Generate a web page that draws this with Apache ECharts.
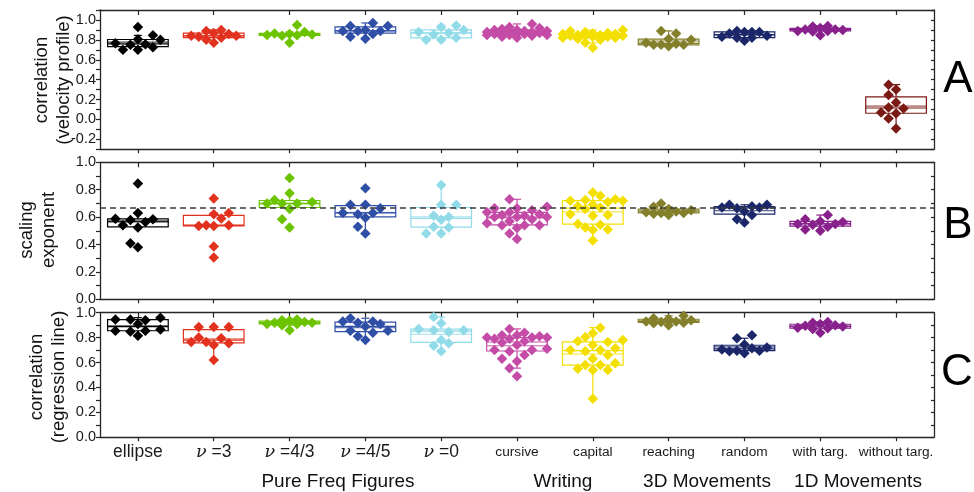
<!DOCTYPE html>
<html>
<head>
<meta charset="utf-8">
<script src="https://cdn.jsdelivr.net/npm/echarts@6/dist/echarts.min.js"></script>
<style>
  html, body { margin: 0; padding: 0; background: #ffffff; }
  #chart { width: 974px; height: 492px; }
</style>
</head>
<body>
<div id="chart"></div>
<script>
// Movement categories along the horizontal axis
const categories = ['ellipse', 'ν =3', 'ν =4/3', 'ν =4/5', 'ν =0', 'cursive', 'capital', 'reaching', 'random', 'with targ.', 'without targ.'];
const groupLabels = ['Pure Freq Figures', 'Writing', '3D Movements', '1D Movements'];
const panelLetters = ['A', 'B', 'C'];
const panelTitles = ['correlation\n(velocity profile)', 'scaling\nexponent', 'correlation\n(regression line)'];
const categoryColors = ['#000000', '#e2321f', '#6cc300', '#2f4ea6', '#91dbe9', '#c44ca7', '#f4e000', '#837f2a', '#1b2769', '#88218c', '#7a1a14'];

// Panel A: correlation of the velocity profile
const velEllipse = [0.75, 0.80, 0.70, 0.93, 0.845, 0.725, 0.70, 0.755, 0.765, 0.805];
const velNu3 = [0.83, 0.84, 0.90, 0.80, 0.77, 0.86, 0.87, 0.84, 0.82, 0.89];
const velNu43 = [0.845, 0.855, 0.86, 0.95, 0.88, 0.77, 0.84, 0.865, 0.85];
const velNu45 = [0.89, 0.89, 0.97, 0.81, 0.94, 0.86, 0.94, 0.83, 0.89, 0.90];
const velNu0 = [0.88, 0.855, 0.93, 0.80, 0.945, 0.80, 0.87, 0.90, 0.82];
const velCursive = [0.87, 0.88, 0.85, 0.89, 0.86, 0.90, 0.84, 0.92, 0.96, 0.88, 0.82, 0.87, 0.91, 0.85, 0.89, 0.93, 0.86, 0.88, 0.83, 0.90, 0.87, 0.85];
const velCapital = [0.865, 0.84, 0.83, 0.82, 0.85, 0.80, 0.72, 0.77, 0.86, 0.88, 0.84, 0.89, 0.87, 0.83, 0.81, 0.86, 0.84, 0.90, 0.85, 0.82];
const velReaching = [0.75, 0.89, 0.77, 0.865, 0.76, 0.81, 0.735, 0.80, 0.75, 0.75];
const velRandom = [0.865, 0.88, 0.83, 0.82, 0.88, 0.79, 0.84, 0.88, 0.82, 0.89];
const velWithTarg = [0.845, 0.94, 0.89, 0.905, 0.90, 0.935, 0.89, 0.92, 0.885, 0.905];
const velWithoutTarg = [0.17, 0.07, 0.245, 0.35, 0.12, 0.06, -0.09, 0.30, 0.11, 0.01];

// Panel B: scaling exponent
const expEllipse = [0.584, 0.588, 0.54, 0.63, 0.846, 0.41, 0.38, 0.578, 0.525, 0.564];
const expNu3 = [0.54, 0.63, 0.54, 0.735, 0.59, 0.385, 0.305, 0.62, 0.535, 0.535];
const expNu43 = [0.71, 0.70, 0.885, 0.775, 0.70, 0.66, 0.585, 0.525, 0.725, 0.70];
const expNu45 = [0.63, 0.665, 0.62, 0.81, 0.69, 0.53, 0.48, 0.595, 0.69, 0.63];
const expNu0 = [0.69, 0.58, 0.525, 0.48, 0.835, 0.61, 0.69, 0.60, 0.53, 0.48];
const expCursive = [0.635, 0.60, 0.54, 0.675, 0.60, 0.555, 0.73, 0.665, 0.615, 0.54, 0.48, 0.44, 0.60, 0.665, 0.585, 0.635, 0.54, 0.61, 0.57, 0.62, 0.52, 0.65];
const expCapital = [0.725, 0.69, 0.505, 0.755, 0.68, 0.615, 0.525, 0.78, 0.71, 0.67, 0.61, 0.51, 0.43, 0.72, 0.62, 0.545, 0.73, 0.66, 0.55, 0.72];
const expReaching = [0.63, 0.65, 0.625, 0.70, 0.64, 0.66, 0.615, 0.675, 0.63, 0.635];
const expRandom = [0.69, 0.69, 0.67, 0.615, 0.56, 0.64, 0.67, 0.585, 0.665, 0.68];
const expWithTarg = [0.565, 0.57, 0.51, 0.615, 0.50, 0.55, 0.545, 0.585, 0.55, 0.53];
const expWithoutTarg = [];
const scalingReference = 2 / 3;

// Panel C: correlation of the regression line
const regEllipse = [0.855, 0.945, 0.91, 0.945, 0.815, 0.96, 0.85, 0.94, 0.865, 0.855];
const regNu3 = [0.755, 0.80, 0.885, 0.74, 0.62, 0.885, 0.795, 0.885, 0.765, 0.765];
const regNu43 = [0.94, 0.92, 0.91, 0.935, 0.90, 0.945, 0.86, 0.925, 0.91, 0.92];
const regNu45 = [0.81, 0.93, 0.855, 0.955, 0.91, 0.855, 0.78, 0.93, 0.84, 0.92, 0.89];
const regNu0 = [0.87, 0.78, 0.915, 0.845, 0.965, 0.755, 0.69, 0.86, 0.735, 0.86];
const regCursive = [0.79, 0.80, 0.87, 0.70, 0.82, 0.66, 0.61, 0.555, 0.84, 0.49, 0.70, 0.76, 0.80, 0.69, 0.79, 0.80, 0.71, 0.77, 0.81, 0.82, 0.74, 0.63];
const regCapital = [0.77, 0.54, 0.70, 0.88, 0.74, 0.63, 0.58, 0.835, 0.78, 0.69, 0.595, 0.54, 0.31, 0.805, 0.70, 0.55, 0.765, 0.58, 0.715, 0.66];
const regReaching = [0.93, 0.915, 0.94, 0.975, 0.95, 0.90, 0.925, 0.92, 0.93, 0.955];
const regRandom = [0.715, 0.695, 0.72, 0.675, 0.82, 0.705, 0.695, 0.795, 0.69, 0.745];
const regWithTarg = [0.84, 0.92, 0.89, 0.88, 0.925, 0.875, 0.91, 0.87, 0.895, 0.90];
const regWithoutTarg = [];

// Axis ranges and tick spacing
const rangeA = [-0.3, 1.1];
const rangeB = [0, 1.0];
const rangeC = [0, 1.0];
const tickStep = 0.1;

const panelSets = [
  [velEllipse, velNu3, velNu43, velNu45, velNu0, velCursive, velCapital, velReaching, velRandom, velWithTarg, velWithoutTarg],
  [expEllipse, expNu3, expNu43, expNu45, expNu0, expCursive, expCapital, expReaching, expRandom, expWithTarg, expWithoutTarg],
  [regEllipse, regNu3, regNu43, regNu45, regNu0, regCursive, regCapital, regReaching, regRandom, regWithTarg, regWithoutTarg]
];
const panelRanges = [rangeA, rangeB, rangeC];

// ---- layout ----
const FONT = '"Liberation Sans", Arial, Helvetica, sans-serif';
const AXIS_COLOR = '#262626';
const GRID_LEFT = 100, GRID_RIGHT = 40, CHART_W = 974;
const GRID_W = CHART_W - GRID_LEFT - GRID_RIGHT;
const panelLayout = [
  { top: 10, height: 139.3 },
  { top: 162.3, height: 137 },
  { top: 312.7, height: 124.6 }
];

// ---- statistics ----
function quantile(sorted, p) {
  const h = (sorted.length - 1) * p;
  const lo = Math.floor(h);
  const hi = Math.min(lo + 1, sorted.length - 1);
  return sorted[lo] + (sorted[hi] - sorted[lo]) * (h - lo);
}
function boxStats(vals) {
  const s = vals.slice().sort((a, b) => a - b);
  const q1 = quantile(s, 0.25), md = quantile(s, 0.5), q3 = quantile(s, 0.75);
  const iqr = q3 - q1;
  const lo = s.find(v => v >= q1 - 1.5 * iqr);
  const hi = s.slice().reverse().find(v => v <= q3 + 1.5 * iqr);
  const mean = s.reduce((a, b) => a + b, 0) / s.length;
  return [lo, q1, md, q3, hi, mean];
}

// Spread overlapping points sideways (beeswarm), offsets in pixels
function swarmOffsets(values, pxPerUnit) {
  const step = 7.5, minGap = 10;
  const maxSlots = values.length > 15 ? 4 : 3;
  const order = values.map((v, i) => ({ i, y: v * pxPerUnit })).sort((a, b) => a.y - b.y);
  const placed = [];
  const out = new Array(values.length).fill(0);
  let flip = 1;
  for (const p of order) {
    const cands = [0];
    for (let k = 1; k <= maxSlots; k++) cands.push(flip * k * step, -flip * k * step);
    let best = 0, bestScore = -Infinity;
    for (const dx of cands) {
      let minD = Infinity;
      for (const q of placed) {
        const d = Math.abs(q.x - dx) + Math.abs(q.y - p.y);
        if (d < minD) minD = d;
      }
      if (minD >= minGap) { best = dx; break; }
      if (minD > bestScore) { bestScore = minD; best = dx; }
    }
    placed.push({ x: best, y: p.y });
    out[p.i] = best;
    flip = -flip;
  }
  return out;
}

function tickLabel(v) {
  const r = Math.round(v * 10);
  if (r % 2 !== 0) return '';
  if (r === 0) return '0.0';
  return (r / 10).toFixed(1);
}

function renderBox(params, api) {
  const c = api.value(0);
  const color = categoryColors[api.value(7)];
  const lo = api.coord([c, api.value(1)]);
  const q1 = api.coord([c, api.value(2)]);
  const md = api.coord([c, api.value(3)]);
  const q3 = api.coord([c, api.value(4)]);
  const hi = api.coord([c, api.value(5)]);
  const mn = api.coord([c, api.value(6)]);
  const w = api.size([1, 0])[0] * 0.8;
  const cx = q1[0];
  const st = { stroke: color, fill: 'none', lineWidth: 1.2 };
  const line = (x1, y1, x2, y2, lw) => ({ type: 'line', shape: { x1, y1, x2, y2 }, style: Object.assign({}, st, lw ? { lineWidth: lw } : {}) });
  const cap = 4;
  const children = [
    { type: 'rect', shape: { x: cx - w / 2, y: q3[1], width: w, height: q1[1] - q3[1] }, style: st },
    line(cx - w / 2, md[1], cx + w / 2, md[1]),
    line(cx - w / 2, mn[1], cx + w / 2, mn[1], 0.9)
  ];
  if (hi[1] < q3[1] - 0.5) {
    children.push(line(cx, q3[1], cx, hi[1]));
    children.push(line(cx - cap, hi[1], cx + cap, hi[1]));
  }
  if (lo[1] > q1[1] + 0.5) {
    children.push(line(cx, q1[1], cx, lo[1]));
    children.push(line(cx - cap, lo[1], cx + cap, lo[1]));
  }
  return { type: 'group', children };
}

const grids = [], xAxes = [], yAxes = [], series = [];
const catW = GRID_W / categories.length;

panelLayout.forEach((lay, p) => {
  const [ymin, ymax] = panelRanges[p];
  const pxPerUnit = lay.height / (ymax - ymin);
  grids.push({ left: GRID_LEFT, right: GRID_RIGHT, top: lay.top, height: lay.height, containLabel: false });

  const isLast = p === panelLayout.length - 1;
  xAxes.push({
    type: 'category', gridIndex: p, data: categories, position: 'bottom',
    axisLine: { onZero: false, lineStyle: { color: AXIS_COLOR, width: 1.3 } },
    axisTick: { show: true, inside: false, length: 4, alignWithLabel: true, interval: 0, lineStyle: { color: AXIS_COLOR, width: 1.2 } },
    axisLabel: {
      show: isLast, interval: 0, margin: 5, color: '#1a1a1a',
      formatter: (val, idx) => {
        if (idx < 5) {
          if (val.startsWith('ν')) return '{nu|ν}{big|' + val.slice(1) + '}';
          return '{big|' + val + '}';
        }
        return '{small|' + val + '}';
      },
      rich: {
        big: { fontSize: 17.5, fontFamily: FONT, color: '#1a1a1a', lineHeight: 20 },
        nu: { fontSize: 17.5, fontFamily: 'DejaVu Serif, serif', fontStyle: 'italic', color: '#1a1a1a', lineHeight: 20 },
        small: { fontSize: 13.7, fontFamily: FONT, color: '#1a1a1a', lineHeight: 20 }
      }
    },
    splitLine: { show: false }
  });
  xAxes.push({
    type: 'category', gridIndex: p, data: categories, position: 'top',
    axisLine: { onZero: false, lineStyle: { color: AXIS_COLOR, width: 1.3 } },
    axisTick: { show: true, inside: true, length: 5, alignWithLabel: true, interval: 0, lineStyle: { color: AXIS_COLOR, width: 1.2 } },
    axisLabel: { show: false },
    splitLine: { show: false }
  });
  xAxes.push({ type: 'value', gridIndex: p, min: -0.5, max: categories.length - 0.5, show: false });

  yAxes.push({
    type: 'value', gridIndex: p, min: ymin, max: ymax, interval: tickStep, position: 'left',
    axisLine: { show: true, onZero: false, lineStyle: { color: AXIS_COLOR, width: 1.3 } },
    axisTick: { show: true, inside: false, length: 4, lineStyle: { color: AXIS_COLOR, width: 1.2 } },
    axisLabel: { formatter: tickLabel, margin: 4, fontSize: 14.5, fontFamily: FONT, color: '#1a1a1a' },
    splitLine: { show: false }
  });
  yAxes.push({
    type: 'value', gridIndex: p, min: ymin, max: ymax, interval: tickStep, position: 'right',
    axisLine: { show: true, onZero: false, lineStyle: { color: AXIS_COLOR, width: 1.3 } },
    axisTick: { show: true, inside: true, length: 3, lineStyle: { color: AXIS_COLOR, width: 1.2 } },
    axisLabel: { show: false },
    splitLine: { show: false }
  });

  // box-and-whisker summaries plus the individual points
  const boxData = [];
  const pointData = [];
  panelSets[p].forEach((vals, c) => {
    if (!vals.length) return;
    boxData.push([c].concat(boxStats(vals), [c]));
    const offs = swarmOffsets(vals, pxPerUnit);
    vals.forEach((v, i) => {
      pointData.push({ value: [c + offs[i] / catW, v], itemStyle: { color: categoryColors[c], opacity: 1 } });
    });
  });

  series.push({
    type: 'custom', xAxisIndex: p * 3, yAxisIndex: p * 2, z: 2,
    renderItem: renderBox, silent: true,
    encode: { x: 0, y: [1, 2, 3, 4, 5] },
    data: boxData
  });

  const scatter = {
    type: 'scatter', xAxisIndex: p * 3 + 2, yAxisIndex: p * 2, z: 4,
    symbol: 'diamond', symbolSize: 10.5, silent: true,
    itemStyle: { opacity: 1 },
    data: pointData
  };
  if (p === 1) {
    scatter.markLine = {
      silent: true, symbol: ['none', 'none'], label: { show: false },
      lineStyle: { color: '#3a3a3a', type: [6, 4], width: 1.6 },
      data: [{ yAxis: scalingReference }]
    };
  }
  series.push(scatter);
});

// Text furniture: rotated axis titles, panel letters, group labels
const titleCenters = [[53, 80], [38, 230], [48, 377]];
const letterCenters = [[958, 80], [958, 226], [957, 373]];
const groupCenters = [338, 563, 707, 858];
const graphics = [];
panelTitles.forEach((t, i) => {
  graphics.push({
    type: 'text', x: titleCenters[i][0], y: titleCenters[i][1], rotation: Math.PI / 2,
    style: { text: t, font: '18.5px ' + FONT, fill: '#111', align: 'center', verticalAlign: 'middle', textAlign: 'center', textVerticalAlign: 'middle', lineHeight: 22 }
  });
});
panelLetters.forEach((t, i) => {
  graphics.push({
    type: 'text', x: letterCenters[i][0], y: letterCenters[i][1],
    style: { text: t, font: '44px ' + FONT, fill: '#000', align: 'center', verticalAlign: 'middle', textAlign: 'center', textVerticalAlign: 'middle' }
  });
});
groupLabels.forEach((t, i) => {
  graphics.push({
    type: 'text', x: groupCenters[i], y: 482,
    style: { text: t, font: '19px ' + FONT, fill: '#111', align: 'center', verticalAlign: 'middle', textAlign: 'center', textVerticalAlign: 'middle' }
  });
});

const chart = echarts.init(document.getElementById('chart'), null, { renderer: 'canvas' });
chart.setOption({
  animation: false,
  backgroundColor: '#ffffff',
  grid: grids,
  xAxis: xAxes,
  yAxis: yAxes,
  series: series,
  graphic: graphics
});
</script>
</body>
</html>
